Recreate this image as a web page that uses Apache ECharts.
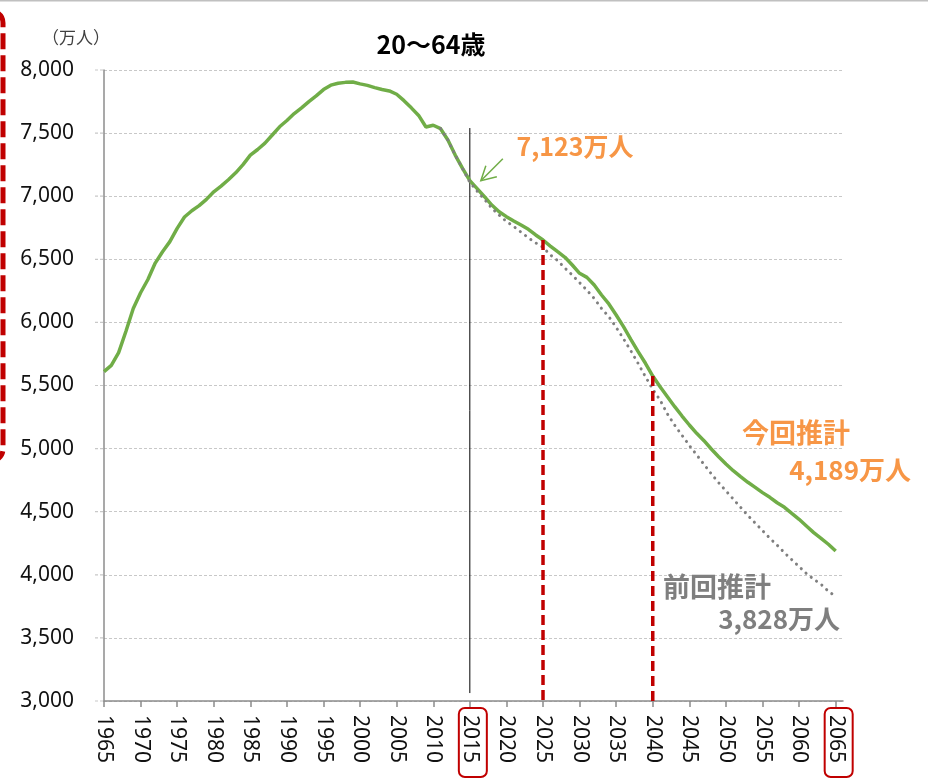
<!DOCTYPE html>
<html><head><meta charset="utf-8">
<script src="https://cdn.jsdelivr.net/npm/echarts@6/dist/echarts.min.js"></script>
<style>html,body{margin:0;padding:0;background:#fff}#c{width:928px;height:779px}</style>
</head><body><div id="c"></div>
<script>
const years = [1965,1966,1967,1968,1969,1970,1971,1972,1973,1974,1975,1976,1977,1978,1979,1980,1981,1982,1983,1984,1985,1986,1987,1988,1989,1990,1991,1992,1993,1994,1995,1996,1997,1998,1999,2000,2001,2002,2003,2004,2005,2006,2007,2008,2009,2010,2011,2012,2013,2014,2015,2016,2017,2018,2019,2020,2021,2022,2023,2024,2025,2026,2027,2028,2029,2030,2031,2032,2033,2034,2035,2036,2037,2038,2039,2040,2041,2042,2043,2044,2045,2046,2047,2048,2049,2050,2051,2052,2053,2054,2055,2056,2057,2058,2059,2060,2061,2062,2063,2064,2065];
const currentEstimate = [5610,5660,5760,5930,6110,6235,6340,6470,6560,6640,6745,6835,6885,6925,6975,7035,7080,7130,7185,7250,7325,7370,7420,7485,7550,7600,7655,7700,7750,7795,7845,7880,7895,7902,7905,7890,7878,7860,7845,7834,7808,7757,7700,7640,7548,7562,7535,7445,7326,7220,7123,7060,6996,6930,6877,6838,6803,6772,6738,6693,6653,6605,6560,6516,6455,6389,6357,6296,6217,6146,6059,5966,5866,5768,5676,5575,5490,5411,5332,5258,5187,5121,5063,4997,4936,4878,4825,4778,4733,4693,4651,4614,4571,4535,4487,4440,4387,4334,4289,4242,4189];
const prevYears = [2011,2012,2013,2014,2015,2016,2017,2018,2019,2020,2021,2022,2023,2024,2025,2026,2027,2028,2029,2030,2031,2032,2033,2034,2035,2036,2037,2038,2039,2040,2041,2042,2043,2044,2045,2046,2047,2048,2049,2050,2051,2052,2053,2054,2055,2056,2057,2058,2059,2060,2061,2062,2063,2064,2065];
const previousEstimate = [7535,7445,7326,7220,7110,7040,6975,6905,6850,6800,6760,6715,6670,6630,6595,6535,6490,6430,6375,6315,6255,6190,6110,6045,5960,5870,5775,5675,5570,5470,5385,5275,5185,5105,5025,4950,4875,4800,4730,4665,4600,4535,4470,4410,4350,4290,4235,4175,4120,4065,4010,3965,3925,3870,3828];
const xTicks = [1965,1970,1975,1980,1985,1990,1995,2000,2005,2010,2015,2020,2025,2030,2035,2040,2045,2050,2055,2060,2065];
const markerYears = [2025,2040];
const markerValues = [6653,5575];
const baseYear = 2015;
const baseLine = [7540,3063];
const title = '20〜64歳';
const unitLabel = '（万人）';

const NUM = '"Noto Sans","Noto Sans CJK JP",sans-serif';
const JP = '"Noto Sans CJK JP","Noto Sans",sans-serif';
const GREEN = '#70ad47', ORANGE = '#f79646', GRAY = '#7f7f7f', RED = '#c00000';

const chart = echarts.init(document.getElementById('c'), null, {renderer:'canvas'});
const cur = years.map((y,i)=>[y,currentEstimate[i]]);
const prev = prevYears.map((y,i)=>[y,previousEstimate[i]]);
const series = [
  {type:'line', data:[[baseYear,baseLine[0]],[baseYear,baseLine[1]]], symbol:'none', silent:true,
   lineStyle:{color:'#000',width:1}, z:2},
  {type:'line', data:cur, symbol:'none', smooth:false, lineStyle:{color:GREEN,width:3.5}, z:3},
  {type:'line', data:prev, symbol:'none', lineStyle:{color:GRAY,width:3,type:[0.1,6.5],cap:'round'}, z:4}
];
markerYears.forEach((y,i)=>{
  series.push({type:'line', data:[[y,markerValues[i]],[y,3000]], symbol:'none',
    lineStyle:{color:RED,width:3.5,type:[10,5]}, z:5});
});

chart.setOption({
  animation:false,
  grid:{left:104,right:85,top:70,bottom:78,containLabel:false},
  xAxis:{type:'value',min:1965,max:2066,
    axisLine:{show:true,lineStyle:{color:'#8c8c8c',width:1.5}},
    axisTick:{show:true,length:6,lineStyle:{color:'#8c8c8c',width:1.5},customValues:xTicks},
    axisLabel:{rotate:-90,margin:14,fontSize:21,color:'#111',fontFamily:NUM,customValues:xTicks,formatter:v=>String(v)},
    splitLine:{show:false}},
  yAxis:{type:'value',min:3000,max:8000,interval:500,
    axisLine:{show:true,lineStyle:{color:'#8c8c8c',width:1.5}},
    axisTick:{show:false},
    axisLabel:{margin:30,fontSize:21,color:'#111',fontFamily:NUM,formatter:v=>v.toLocaleString('en-US')},
    splitLine:{show:true,lineStyle:{color:'#c8c8c8',width:1.2,type:[3,2]}}},
  series:series
});

const px = (x,y)=>chart.convertToPixel({xAxisIndex:0,yAxisIndex:0},[x,y]);
const p15 = px(2015,3000), p65 = px(2065,3000), pb = px(2015,7123);
const gl = [];
for (let v=3000; v<=8000; v+=500){
  const p = px(1965,v);
  gl.push({type:'line',shape:{x1:p[0]-9,y1:p[1],x2:p[0],y2:p[1]},style:{stroke:'#c8c8c8',lineWidth:1.2,lineDash:[3,2]}});
}
[p15,p65].forEach(p=>{
  gl.push({type:'rect',shape:{x:p[0]-11,y:p[1]+7,width:28,height:69,r:6},style:{fill:'none',stroke:RED,lineWidth:2}});
});
gl.push({type:'polyline',shape:{points:[[pb[0]+33,pb[1]-22],[pb[0]+11,pb[1]]]},style:{stroke:GREEN,lineWidth:1.5,fill:'none'}});
gl.push({type:'polyline',shape:{points:[[pb[0]+16,pb[1]-15],[pb[0]+11,pb[1]],[pb[0]+27,pb[1]-4]]},style:{stroke:GREEN,lineWidth:1.5,fill:'none'}});
gl.push({type:'line',shape:{x1:0,y1:0.75,x2:928,y2:0.75},style:{stroke:'#c0c0c0',lineWidth:1.5}});
gl.push({type:'rect',shape:{x:-300,y:11,width:303,height:450,r:12},style:{fill:'none',stroke:RED,lineWidth:5,lineDash:[16,6]}});
gl.push({type:'text',x:431,y:44,style:{text:title,font:'bold 25px '+JP,fill:'#000',align:'center',verticalAlign:'middle'}});
gl.push({type:'text',x:76,y:38,style:{text:unitLabel,font:'17px '+JP,fill:'#404040',align:'center',verticalAlign:'middle'}});
gl.push({type:'text',x:575,y:146,style:{text:'7,123万人',font:'bold 25px '+JP,fill:ORANGE,align:'center',verticalAlign:'middle'}});
gl.push({type:'text',x:850,y:433,style:{text:'今回推計',font:'bold 27px '+JP,fill:ORANGE,align:'right',verticalAlign:'middle'}});
gl.push({type:'text',x:911,y:470,style:{text:'4,189万人',font:'bold 26px '+JP,fill:ORANGE,align:'right',verticalAlign:'middle'}});
gl.push({type:'text',x:663,y:587,style:{text:'前回推計',font:'bold 27px '+JP,fill:GRAY,align:'left',verticalAlign:'middle'}});
gl.push({type:'text',x:840,y:619,style:{text:'3,828万人',font:'bold 26px '+JP,fill:GRAY,align:'right',verticalAlign:'middle'}});
chart.setOption({graphic:{elements:gl}});
</script></body></html>
